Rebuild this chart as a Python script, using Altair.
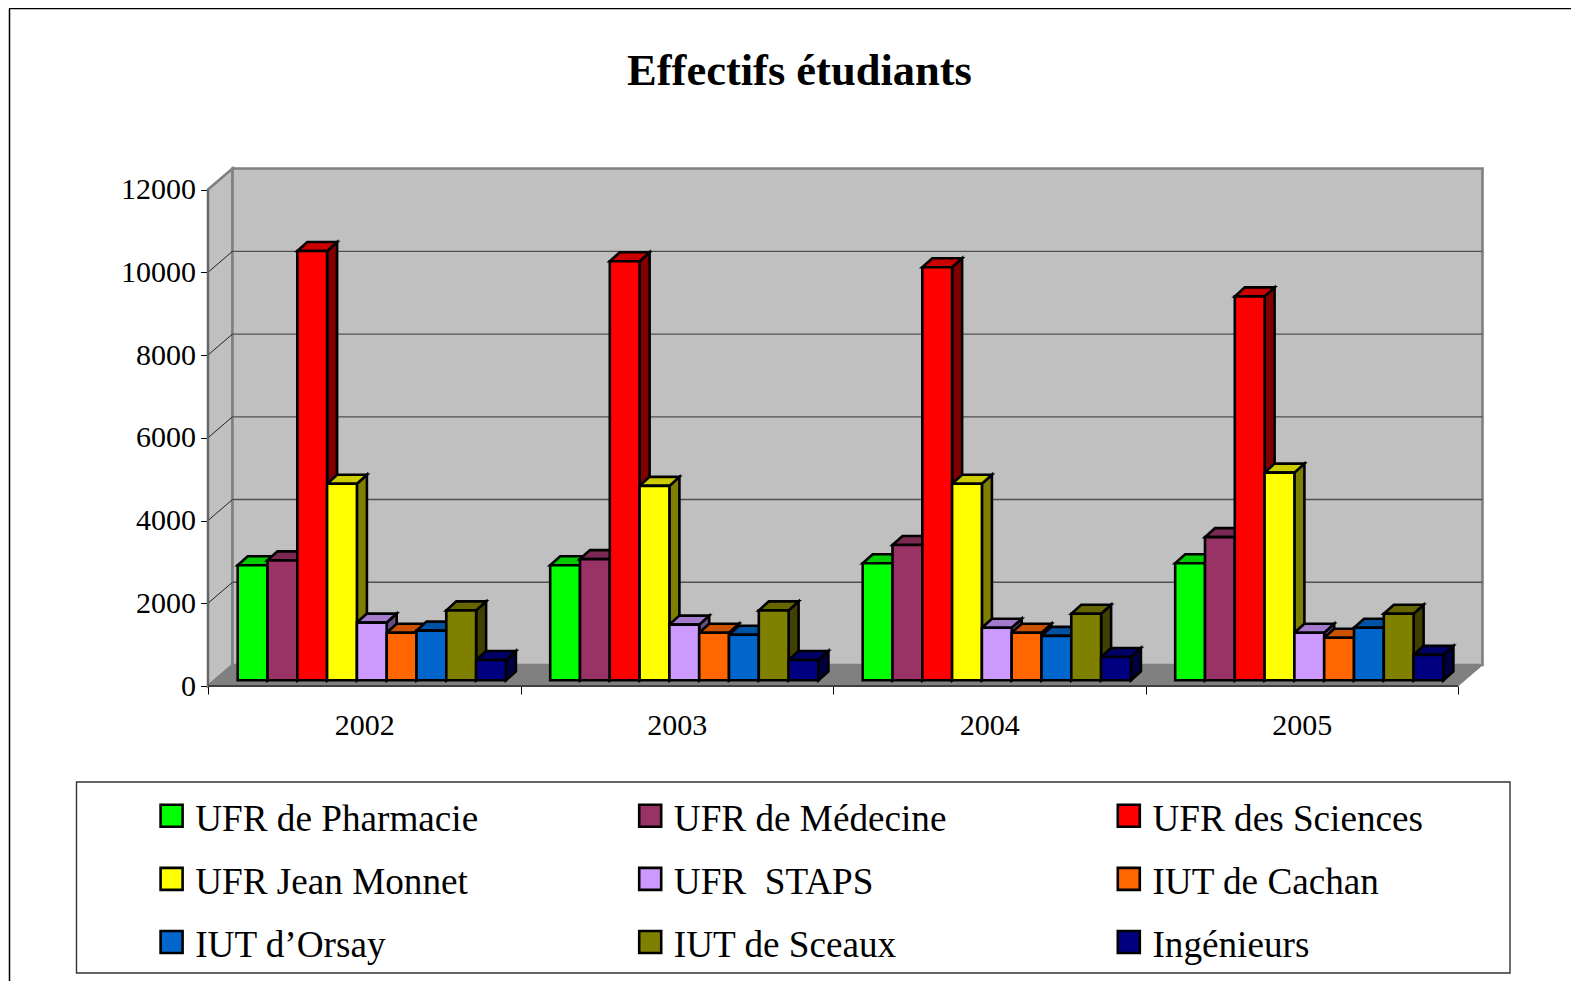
import altair as alt
import pandas as pd

YEARS = [2002, 2003, 2004, 2005]
SERIES = ["UFR de Pharmacie", "UFR de Médecine", "UFR des Sciences",
          "UFR Jean Monnet", "UFR \u00a0STAPS", "IUT de Cachan",
          "IUT d’Orsay", "IUT de Sceaux", "Ingénieurs"]
V2002 = [2780, 2900, 10376, 4750, 1395, 1150, 1200, 1690, 490]
V2003 = [2780, 2930, 10130, 4700, 1345, 1150, 1100, 1690, 490]
V2004 = [2830, 3270, 9985, 4750, 1270, 1150, 1075, 1610, 565]
V2005 = [2830, 3460, 9280, 5020, 1150, 1030, 1270, 1610, 615]
VALUES = [V2002, V2003, V2004, V2005]
FRONT = ["#00FF00", "#993366", "#FF0000", "#FFFF00", "#CC99FF", "#FF6600", "#0066CC", "#808000", "#000080"]
TOP = ["#00CC00", "#7A2952", "#CC0000", "#CCCC00", "#A37ACC", "#CC5200", "#0052A3", "#666600", "#000066"]
SIDE = ["#008000", "#4D1A33", "#800000", "#808000", "#664D80", "#803300", "#003366", "#404000", "#000040"]
TICKS = [0, 2000, 4000, 6000, 8000, 10000, 12000]
X_TICKS = [0, 0.5, 1, 1.5, 2, 2.5, 3, 3.5, 4]

PX_X = 312.5
PX_Y = 0.04137
WALL_DX = 24.5 / PX_X
WALL_DY = 21 / PX_Y
BAR_DX = 10 / PX_X
BAR_DY = 9 / PX_Y
BASE = 5.7 / PX_Y
START = 29.7 / PX_X
BAR_W = 29.8 / PX_X
FONT = "Liberation Serif"
BAR_LINE = 2.6

fronts, tops, sides = [], [], []
for g, vals in enumerate(VALUES):
    for i, v in enumerate(vals):
        x0 = g + START + i * BAR_W
        x1 = x0 + BAR_W
        y = v + BASE
        key = f"{g}-{i}"
        fronts.append(dict(x=x0, x2=x1, y=y, y2=BASE, series=SERIES[i]))
        for px, py, py2 in [(x0, y, y), (x0 + BAR_DX, y + BAR_DY, y),
                            (x1, y + BAR_DY, y), (x1 + BAR_DX, y + BAR_DY, y + BAR_DY)]:
            tops.append(dict(x=px, y=py, y2=py2, key=key, fill=TOP[i]))
        for px, py, py2 in [(x1, y, BASE), (x1 + BAR_DX, y + BAR_DY, BASE + BAR_DY)]:
            sides.append(dict(x=px, y=py, y2=py2, key=key, fill=SIDE[i]))

W = 1277
H = 521
RIGHT = 86
XS = alt.Scale(domain=[0, W / PX_X], nice=False, zero=False)
YS = alt.Scale(domain=[0, H / PX_Y], nice=False, zero=False)
X_AXIS = alt.Axis(
    values=X_TICKS, domain=False, grid=False, tickSize=8, tickColor="black", tickWidth=1,
    tickOpacity={"condition": {"test": "datum.value % 1 == 0", "value": 1}, "value": 0},
    labelExpr="datum.value % 1 == 0 ? '' : format(2002 + floor(datum.value), 'd')",
    labelFont=FONT, labelFontSize=30, labelColor="black", labelPadding=16,
    labelOverlap=False, labelFlush=False, labelBound=False, title=None)
Y_AXIS = alt.Axis(
    values=TICKS, domain=False, grid=False, tickSize=7.5, tickColor="black", tickWidth=1,
    format="d", labelFont=FONT, labelFontSize=30, labelColor="black", labelPadding=5,
    labelOverlap=False, labelFlush=False, labelBound=False, title=None)


def X(f="x"):
    return alt.X(f"{f}:Q", scale=XS, axis=X_AXIS)


def Y(f="y"):
    return alt.Y(f"{f}:Q", scale=YS, axis=Y_AXIS)


WALL = "#808080"
left_wall = alt.Chart(pd.DataFrame([
    dict(x=0, y=12000, y2=0), dict(x=WALL_DX, y=12000 + WALL_DY, y2=WALL_DY)
])).mark_area(fill="#C0C0C0", stroke=WALL, strokeWidth=2.6, orient="vertical").encode(
    x=X(), y=Y(), y2="y2:Q")
back_wall = alt.Chart(pd.DataFrame([
    dict(x=WALL_DX, x2=4 + WALL_DX, y=12000 + WALL_DY, y2=WALL_DY)
])).mark_rect(fill="#C0C0C0", stroke=WALL, strokeWidth=2.6).encode(
    x=X(), x2="x2:Q", y=Y(), y2="y2:Q")
floor = alt.Chart(pd.DataFrame([
    dict(x=0, y=0, y2=0), dict(x=WALL_DX, y=WALL_DY, y2=0),
    dict(x=4, y=WALL_DY, y2=0), dict(x=4 + WALL_DX, y=WALL_DY, y2=WALL_DY)
])).mark_area(fill="#808080", stroke=WALL, strokeWidth=1, orient="vertical").encode(
    x=X(), y=Y(), y2="y2:Q")

grid_rows = [dict(x=WALL_DX, x2=4 + WALL_DX, y=t + WALL_DY) for t in TICKS[1:-1]]
grid = alt.Chart(pd.DataFrame(grid_rows)).mark_rule(color="#505050", strokeWidth=1.3).encode(
    x=X(), x2="x2:Q", y=Y())
diag_rows = []
for t in TICKS[1:-1]:
    diag_rows += [dict(x=0, y=t, t=t), dict(x=WALL_DX, y=t + WALL_DY, t=t)]
diag = alt.Chart(pd.DataFrame(diag_rows)).mark_line(color="#222222", strokeWidth=1).encode(
    x=X(), y=Y(), detail="t:N")

y_edge = alt.Chart(pd.DataFrame([dict(x=0, y=0, y2=12000)])).mark_rule(color="#666666", strokeWidth=2).encode(
    x=X(), y=Y(), y2="y2:Q")
x_edge = alt.Chart(pd.DataFrame([dict(x=0, x2=4, y=0)])).mark_rule(color="#404040", strokeWidth=2).encode(
    x=X(), x2="x2:Q", y=Y())

side_faces = alt.Chart(pd.DataFrame(sides)).mark_area(
    stroke="black", strokeWidth=BAR_LINE, orient="vertical", strokeJoin="miter").encode(
    x=X(), y=Y(), y2="y2:Q", detail="key:N", color=alt.Color("fill:N", scale=None))
top_faces = alt.Chart(pd.DataFrame(tops)).mark_area(
    stroke="black", strokeWidth=BAR_LINE, orient="vertical", strokeJoin="miter").encode(
    x=X(), y=Y(), y2="y2:Q", detail="key:N", color=alt.Color("fill:N", scale=None))
front_faces = alt.Chart(pd.DataFrame(fronts)).mark_rect(
    stroke="black", strokeWidth=BAR_LINE).encode(
    x=X(), x2="x2:Q", y=Y(), y2="y2:Q",
    color=alt.Color("series:N", scale=alt.Scale(domain=SERIES, range=FRONT), sort=SERIES,
                    legend=alt.Legend(
                        title=None, orient="none", legendX=153 - 208, legendY=636,
                        direction="horizontal",
                        columns=3, columnPadding=152.6, rowPadding=24.2, gridAlign="all",
                        symbolType="M-1,-1.36H1V0.64H-1Z", symbolSize=484,
                        symbolStrokeColor="black",
                        symbolStrokeWidth=2.6, symbolOpacity=1, labelOffset=5,
                        labelFont=FONT, labelFontSize=37.2, labelColor="black",
                        labelLimit=600, padding=0)))

ONE = pd.DataFrame([dict(a=1)])
frame_top = alt.Chart(ONE).mark_rule(color="black", strokeWidth=1.5).encode(
    x=alt.value(-199), x2=alt.value(W + RIGHT), y=alt.value(-156.5))
frame_left = alt.Chart(ONE).mark_rule(color="black", strokeWidth=1.5).encode(
    x=alt.value(-198.5), y=alt.value(-156.5), y2=alt.value(H + 295))
legend_box = alt.Chart(ONE).mark_rect(fill="white", stroke="#333333", strokeWidth=1.4).encode(
    x=alt.value(76.5 - 208), x2=alt.value(1510 - 208), y=alt.value(782 - 165), y2=alt.value(973 - 165))

chart = alt.layer(
    frame_top, frame_left, legend_box,
    left_wall, back_wall, floor, grid, diag, y_edge, x_edge,
    side_faces, top_faces, front_faces,
).properties(
    width=W, height=H, autosize="none",
    padding={"left": 200, "top": 157, "right": RIGHT, "bottom": 295},
    background="white",
    title=alt.TitleParams("Effectifs étudiants", font=FONT, fontSize=44.5, fontWeight="bold",
                          color="black", anchor="middle", frame="group", dx=-47, dy=87, offset=0),
).configure_view(stroke=None)

chart.save("out.html", embed_options={"renderer": "svg", "actions": False})
